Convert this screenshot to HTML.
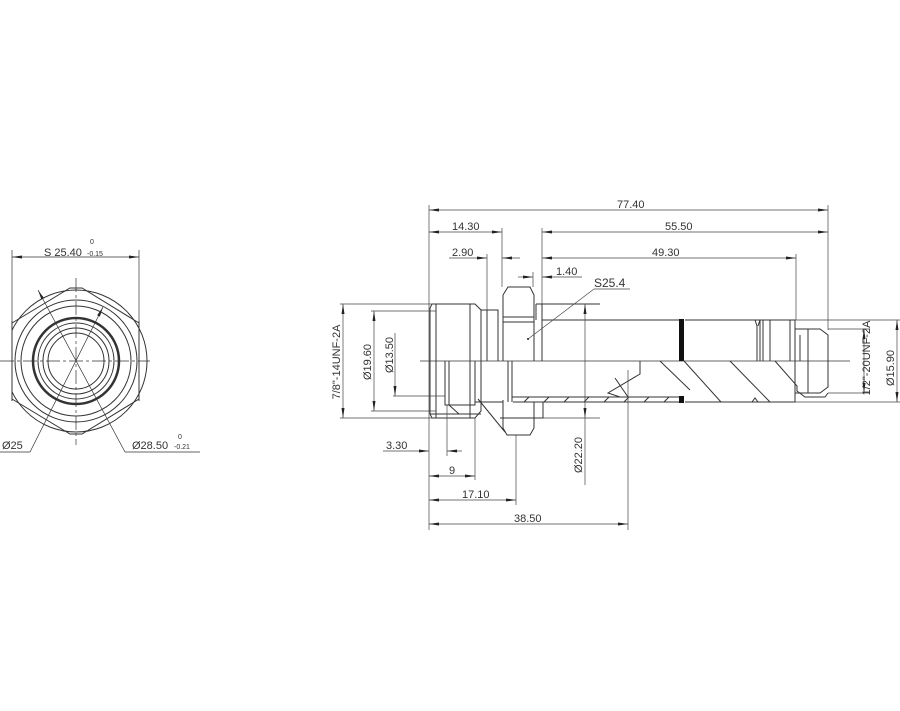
<!DOCTYPE html>
<html><head><meta charset="utf-8"><style>
html,body{margin:0;padding:0;background:#fff;}
svg{display:block;}
text{font-family:"Liberation Sans",sans-serif;font-size:11px;fill:#333;}
.t{font-size:7px;}
</style></head><body>
<svg width="900" height="711" viewBox="0 0 900 711" xmlns="http://www.w3.org/2000/svg">
<defs>
<marker id="a" viewBox="0 0 10 6" refX="10" refY="3" markerWidth="10" markerHeight="6" orient="auto-start-reverse" markerUnits="userSpaceOnUse"><path d="M0,1.5 L10,3 L0,4.5z" fill="#222"/></marker>
<clipPath id="c"><rect x="12" y="200" width="200" height="300"/></clipPath>
</defs>
<g stroke="#333" stroke-width="1" fill="none">
<!-- FRONT VIEW -->
<circle cx="76" cy="361" r="71" clip-path="url(#c)"/>
<path d="M12,323 L70,288 L82,288 L139,323 M12,399 L70,434 L82,434 L139,399"/>
<line x1="12" y1="321" x2="12" y2="401"/>
<line x1="139" y1="321" x2="139" y2="401"/>
<circle cx="76" cy="361" r="61"/>
<circle cx="76" cy="361" r="55"/>
<circle cx="76" cy="361" r="43" stroke-width="2.5"/>
<circle cx="76" cy="361" r="38"/>
<circle cx="76" cy="361" r="33"/>
<circle cx="76" cy="361" r="28"/>
<line x1="0" y1="361" x2="150" y2="361" stroke-dasharray="14,3,3,3" stroke-width="0.7"/>
<line x1="76" y1="278" x2="76" y2="445" stroke-dasharray="14,3,3,3" stroke-width="0.7"/>
<line x1="12" y1="321" x2="12" y2="250" stroke-width="0.7"/>
<line x1="139" y1="321" x2="139" y2="250" stroke-width="0.7"/>
<line x1="12" y1="257" x2="139" y2="257" marker-start="url(#a)" marker-end="url(#a)" stroke-width="0.7"/>
<line x1="38" y1="290" x2="125" y2="452" stroke-width="0.7" marker-start="url(#a)"/>
<line x1="125" y1="452" x2="200" y2="452" stroke-width="0.7"/>
<line x1="103" y1="307" x2="30" y2="452" stroke-width="0.7" marker-start="url(#a)"/>
<line x1="30" y1="452" x2="0" y2="452" stroke-width="0.7"/>

<!-- SIDE VIEW -->
<line x1="420" y1="361" x2="850" y2="361" stroke-width="0.8"/>
<path d="M432,304 L475,304 L481,310 L481,411 L475,418 L432,418 L430,414 L430,308 Z"/>
<line x1="436" y1="304" x2="436" y2="418"/>
<line x1="470" y1="304" x2="470" y2="418"/>
<line x1="430" y1="414" x2="481" y2="414"/>
<path d="M445,361 L445,405 L475,405 L475,361"/>
<line x1="449" y1="361" x2="449" y2="405"/>
<path d="M449,405 L459,414"/>
<path d="M481,310 L498,310 L498,361 M487,310 L487,361"/>
<path d="M503,295 L508,287 L530,287 L534,295 L534,361 M503,295 L503,361"/>
<line x1="503" y1="322" x2="534" y2="322"/>
<line x1="503" y1="317" x2="534" y2="317"/>
<path d="M503,400 L503,428 L507,435 L530,435 L534,428 L534,402"/>
<path d="M478,399 L505,432"/>
<path d="M475,402 L503,402 M534,402 L543,402 L543,418 L500,418" />
<line x1="512" y1="361" x2="512" y2="402"/>
<line x1="508" y1="361" x2="508" y2="402"/>
<path d="M542,320 L679,320 M685,320 L795,320 L795,329 L820,329 L828,335 L828,387 L820,393 L795,393 L795,402 L685,402 M679,402 L513,402"/>
<line x1="512" y1="397" x2="680" y2="397"/>
<line x1="542" y1="304" x2="542" y2="361"/>
<line x1="536" y1="304" x2="536" y2="320"/>
<line x1="536" y1="304" x2="600" y2="304"/>
<line x1="795" y1="329" x2="795" y2="393"/>
<line x1="808" y1="329" x2="808" y2="393"/>
<line x1="800" y1="335" x2="800" y2="361"/>
<path d="M755,320 L757,326 L757,361 M760,320 L758,326 M760,320 L760,361 M763,320 L763,361 M770,320 L770,361"/>
<line x1="790" y1="320" x2="790" y2="361"/>
<path d="M640,361 L640,374 L608,393 L620,397"/>
<path d="M615,378 L628,397 M660,361 L690,390"/>
<path d="M684,361 L721,402 M730,361 L770,402 M775,361 L797,386 L797,391 L805,397 L825,397 L828,393"/>
<path d="M752,402 L755,398 L758,402"/>
<path d="M524,402 L529,397 M544,402 L549,397 M564,402 L569,397 M584,402 L589,397 M604,402 L609,397 M624,402 L629,397 M644,402 L649,397 M664,402 L669,397"/>
</g>
<rect x="679" y="319" width="5" height="42" fill="#111"/>
<rect x="679" y="396" width="5" height="7" fill="#111"/>
<g stroke="#444" stroke-width="0.7" fill="none">
<line x1="429" y1="205" x2="429" y2="530"/>
<line x1="828" y1="205" x2="828" y2="330"/>
<line x1="502" y1="228" x2="502" y2="287"/>
<line x1="542" y1="228" x2="542" y2="304"/>
<line x1="796" y1="254" x2="796" y2="320"/>
<line x1="487" y1="254" x2="487" y2="310"/>
<line x1="533" y1="272" x2="533" y2="287"/>
<line x1="447" y1="405" x2="447" y2="456"/>
<line x1="475" y1="418" x2="475" y2="480"/>
<line x1="516" y1="435" x2="516" y2="505"/>
<line x1="628" y1="370" x2="628" y2="530"/>
<line x1="429" y1="210" x2="828" y2="210" marker-start="url(#a)" marker-end="url(#a)"/>
<line x1="429" y1="232" x2="502" y2="232" marker-start="url(#a)" marker-end="url(#a)"/>
<line x1="542" y1="232" x2="828" y2="232" marker-start="url(#a)" marker-end="url(#a)"/>
<line x1="542" y1="258" x2="796" y2="258" marker-start="url(#a)" marker-end="url(#a)"/>
<line x1="449" y1="258" x2="487" y2="258" marker-end="url(#a)"/>
<line x1="520" y1="258" x2="502" y2="258" marker-end="url(#a)"/>
<line x1="518" y1="277" x2="533" y2="277" marker-end="url(#a)"/>
<line x1="582" y1="277" x2="542" y2="277" marker-end="url(#a)"/>
<line x1="383" y1="451" x2="429" y2="451" marker-end="url(#a)"/>
<line x1="462" y1="451" x2="447" y2="451" marker-end="url(#a)"/>
<line x1="429" y1="476" x2="475" y2="476" marker-start="url(#a)" marker-end="url(#a)"/>
<line x1="429" y1="500" x2="516" y2="500" marker-start="url(#a)" marker-end="url(#a)"/>
<line x1="429" y1="524" x2="628" y2="524" marker-start="url(#a)" marker-end="url(#a)"/>
<line x1="340" y1="304" x2="432" y2="304"/>
<line x1="340" y1="418" x2="432" y2="418"/>
<line x1="371" y1="311" x2="436" y2="311"/>
<line x1="371" y1="411" x2="436" y2="411"/>
<line x1="393" y1="396" x2="445" y2="396"/>
<line x1="343" y1="304" x2="343" y2="418" marker-start="url(#a)" marker-end="url(#a)"/>
<line x1="374" y1="311" x2="374" y2="411" marker-start="url(#a)" marker-end="url(#a)"/>
<line x1="395" y1="333" x2="395" y2="396" marker-end="url(#a)"/>
<line x1="585" y1="304" x2="585" y2="418" marker-start="url(#a)" marker-end="url(#a)"/>
<line x1="585" y1="418" x2="585" y2="485"/>
<line x1="543" y1="418" x2="600" y2="418"/>
<line x1="828" y1="329" x2="870" y2="329"/>
<line x1="828" y1="393" x2="870" y2="393"/>
<line x1="795" y1="320" x2="900" y2="320"/>
<line x1="795" y1="402" x2="900" y2="402"/>
<line x1="864" y1="329" x2="864" y2="393" marker-start="url(#a)" marker-end="url(#a)"/>
<line x1="897" y1="320" x2="897" y2="402" marker-start="url(#a)" marker-end="url(#a)"/>
<line x1="528" y1="339" x2="594" y2="289"/>
<line x1="594" y1="289" x2="630" y2="289"/>
</g>
<circle cx="528" cy="339" r="1" fill="#222"/>
<text x="44" y="256">S 25.40</text>
<text x="90" y="244" class="t">0</text>
<text x="87" y="256" class="t">-0.15</text>
<text x="2" y="449">Ø25</text>
<text x="132" y="449">Ø28.50</text>
<text x="178" y="439" class="t">0</text>
<text x="174" y="449" class="t">-0.21</text>
<text x="617" y="208">77.40</text>
<text x="452" y="230">14.30</text>
<text x="665" y="230">55.50</text>
<text x="652" y="256">49.30</text>
<text x="452" y="256">2.90</text>
<text x="556" y="275">1.40</text>
<text x="594" y="287" style="font-size:12px">S25.4</text>
<text x="386" y="449">3.30</text>
<text x="449" y="474">9</text>
<text x="462" y="498">17.10</text>
<text x="514" y="522">38.50</text>
<text transform="translate(340,362) rotate(-90)" text-anchor="middle">7/8"-14UNF-2A</text>
<text transform="translate(371,362) rotate(-90)" text-anchor="middle">Ø19.60</text>
<text transform="translate(393,355) rotate(-90)" text-anchor="middle">Ø13.50</text>
<text transform="translate(582,455) rotate(-90)" text-anchor="middle">Ø22.20</text>
<text transform="translate(870,358) rotate(-90)" text-anchor="middle">1/2"-20UNF-2A</text>
<text transform="translate(894,368) rotate(-90)" text-anchor="middle">Ø15.90</text>
</svg>
</body></html>
